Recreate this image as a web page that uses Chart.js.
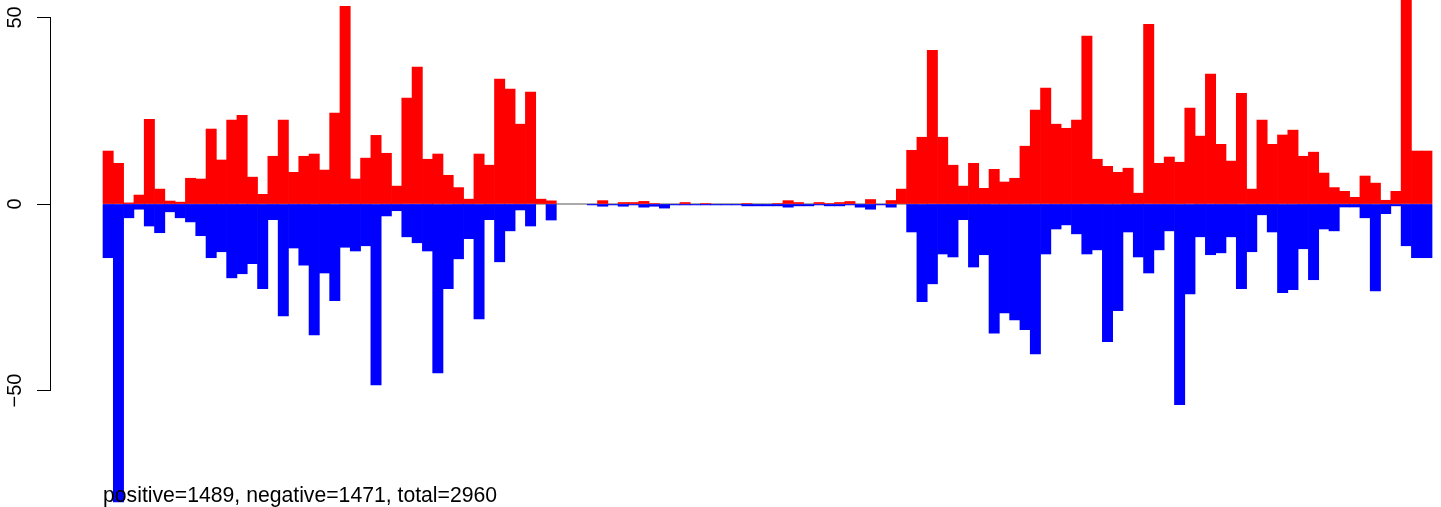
<!DOCTYPE html>
<html>
<head>
<meta charset="utf-8">
<script src="https://cdn.jsdelivr.net/npm/chart.js@4.4.1/dist/chart.umd.min.js"></script>
<style>
html,body{margin:0;padding:0;background:#fff;overflow:hidden}
canvas{display:block}
</style>
</head>
<body>
<canvas id="c" width="1441" height="507"></canvas>
<script>
// ---- data ----
const positives = [
  14.2, 10.9, 0.3, 2.4, 22.7, 4.0, 0.8, 0.5, 6.9, 6.7,
  20.1, 11.8, 22.5, 23.8, 7.2, 2.6, 12.8, 22.5, 8.5, 12.8,
  13.4, 9.1, 24.4, 53.0, 6.7, 12.3, 18.4, 13.6, 4.8, 28.4,
  36.7, 12.0, 13.4, 7.7, 4.4, 1.3, 13.4, 10.4, 33.5, 30.8,
  21.4, 30.0, 1.3, 0.85, 0, 0, 0, 0, 0.9, 0,
  0.4, 0.4, 0.7, 0.13, 0, 0, 0.4, 0, 0.13, 0,
  0, 0, 0.13, 0, 0, 0.13, 0.9, 0.4, 0, 0.4,
  0.13, 0.4, 0.67, 0, 1.2, 0, 0.94, 4.0, 14.4, 17.9,
  41.2, 17.9, 10.4, 4.8, 10.9, 4.2, 9.3, 5.9, 6.9, 15.5,
  25.2, 31.1, 21.4, 20.3, 22.5, 45.0, 12.0, 10.1, 8.5, 9.6,
  2.9, 48.2, 10.9, 12.6, 11.2, 25.7, 18.2, 34.8, 16.0, 11.5,
  29.7, 4.0, 22.5, 16.0, 18.5, 19.8, 12.8, 13.9, 8.3, 4.4,
  3.4, 1.8, 7.5, 5.6, 1.0, 3.4, 100, 14.2, 14.2
];
const negatives = [
  -14.4, -79.9, -3.7, -1.4, -5.9, -7.7, -2.1, -3.7, -4.8, -8.5,
  -14.4, -12.8, -19.8, -18.7, -16.0, -22.7, -4.2, -30.0, -11.8, -16.4,
  -35.1, -18.5, -25.9, -11.6, -12.6, -11.2, -48.5, -3.2, -1.8, -8.8,
  -10.4, -12.6, -45.3, -22.7, -14.7, -9.3, -30.8, -4.2, -15.5, -7.2,
  -1.6, -5.9, 0, -4.3, 0, 0, 0, -0.25, -0.6, -0.25,
  -0.6, -0.25, -0.85, -0.6, -1.1, -0.25, -0.25, -0.25, -0.25, -0.25,
  -0.25, -0.25, -0.5, -0.5, -0.5, -0.5, -0.85, -0.5, -0.5, -0.25,
  -0.5, -0.5, -0.25, -0.85, -1.4, -0.25, -0.85, 0, -7.5, -26.2,
  -21.4, -13.4, -14.2, -4.2, -16.9, -13.6, -34.6, -29.2, -31.1, -33.7,
  -40.2, -13.4, -6.7, -5.6, -8.0, -13.4, -12.3, -36.9, -28.6, -7.5,
  -14.2, -18.5, -12.3, -7.2, -53.8, -24.1, -8.8, -13.6, -13.1, -8.8,
  -22.7, -12.8, -2.9, -7.5, -23.8, -23.0, -12.0, -20.3, -6.7, -7.2,
  -0.8, -0.8, -3.7, -23.3, -2.6, -0.5, -11.2, -14.4, -14.4
];
const yTickValues = [-50, 0, 50];
const yTickLabels = ['\u221250', '0', '50'];
const summaryText = 'positive=1489, negative=1471, total=2960';

// ---- build chart ----
const nBins = positives.length;
const toPoints = arr => arr.map((v, i) => ({ x: i + 0.5, y: v === 0 ? null : v }));

Chart.defaults.font.family = "'Liberation Sans', Arial, Helvetica, sans-serif";

const rAxisPlugin = {
  id: 'rAxis',
  afterDraw(chart) {
    const ctx = chart.ctx;
    const ys = chart.scales.y;
    const xs = chart.scales.x;
    ctx.save();
    // R style axis line: only between first and last tick
    const ax = Math.round(ys.right) - 0.5;
    const pTop = ys.getPixelForValue(Math.max(...yTickValues));
    const pBot = ys.getPixelForValue(Math.min(...yTickValues));
    ctx.strokeStyle = '#000';
    ctx.lineWidth = 1;
    ctx.beginPath();
    ctx.moveTo(ax, Math.floor(pTop));
    ctx.lineTo(ax, Math.ceil(pBot));
    ctx.stroke();
    // summary text under the bars
    ctx.font = "21.2px 'Liberation Sans', Arial, sans-serif";
    ctx.fillStyle = '#000';
    ctx.textAlign = 'left';
    ctx.textBaseline = 'alphabetic';
    ctx.fillText(summaryText, xs.getPixelForValue(0), chart.chartArea.bottom - 5);
    ctx.restore();
  }
};

new Chart(document.getElementById('c'), {
  type: 'bar',
  data: {
    datasets: [
      {
        label: 'negative',
        data: toPoints(negatives),
        backgroundColor: '#0000FF',
        borderWidth: 0,
        grouped: false,
        barPercentage: 1,
        categoryPercentage: 1,
        order: 0
      },
      {
        label: 'positive',
        data: toPoints(positives),
        backgroundColor: '#FF0000',
        borderWidth: 0,
        grouped: false,
        barPercentage: 1,
        categoryPercentage: 1,
        order: 1
      },
      {
        type: 'line',
        label: 'zero',
        data: [{ x: 0, y: 0 }, { x: nBins, y: 0 }],
        borderColor: '#555555',
        borderWidth: 1,
        pointRadius: 0,
        order: 2
      }
    ]
  },
  options: {
    responsive: false,
    animation: false,
    devicePixelRatio: 1,
    layout: { padding: 0 },
    plugins: {
      legend: { display: false },
      tooltip: { enabled: false },
      title: { display: false }
    },
    scales: {
      x: {
        type: 'linear',
        display: false,
        offset: false,
        grid: { offset: false },
        min: -5.048,
        max: 129.87,
        ticks: { stepSize: 1000 }
      },
      y: {
        type: 'linear',
        position: 'left',
        min: -81.233,
        max: 54.692,
        afterBuildTicks: s => { s.ticks = yTickValues.map(v => ({ value: v })); },
        afterFit: s => { s.width = 51; s.paddingTop = 0; s.paddingBottom = 0; },
        ticks: {
          callback: v => yTickLabels[yTickValues.indexOf(v)],
          font: { size: 20 },
          color: '#000',
          minRotation: 90,
          maxRotation: 90,
          crossAlign: 'center',
          padding: 5
        },
        grid: {
          drawOnChartArea: false,
          drawTicks: true,
          tickLength: 14,
          color: '#000',
          lineWidth: 1
        },
        border: { display: false }
      }
    }
  },
  plugins: [rAxisPlugin]
});
</script>
</body>
</html>
